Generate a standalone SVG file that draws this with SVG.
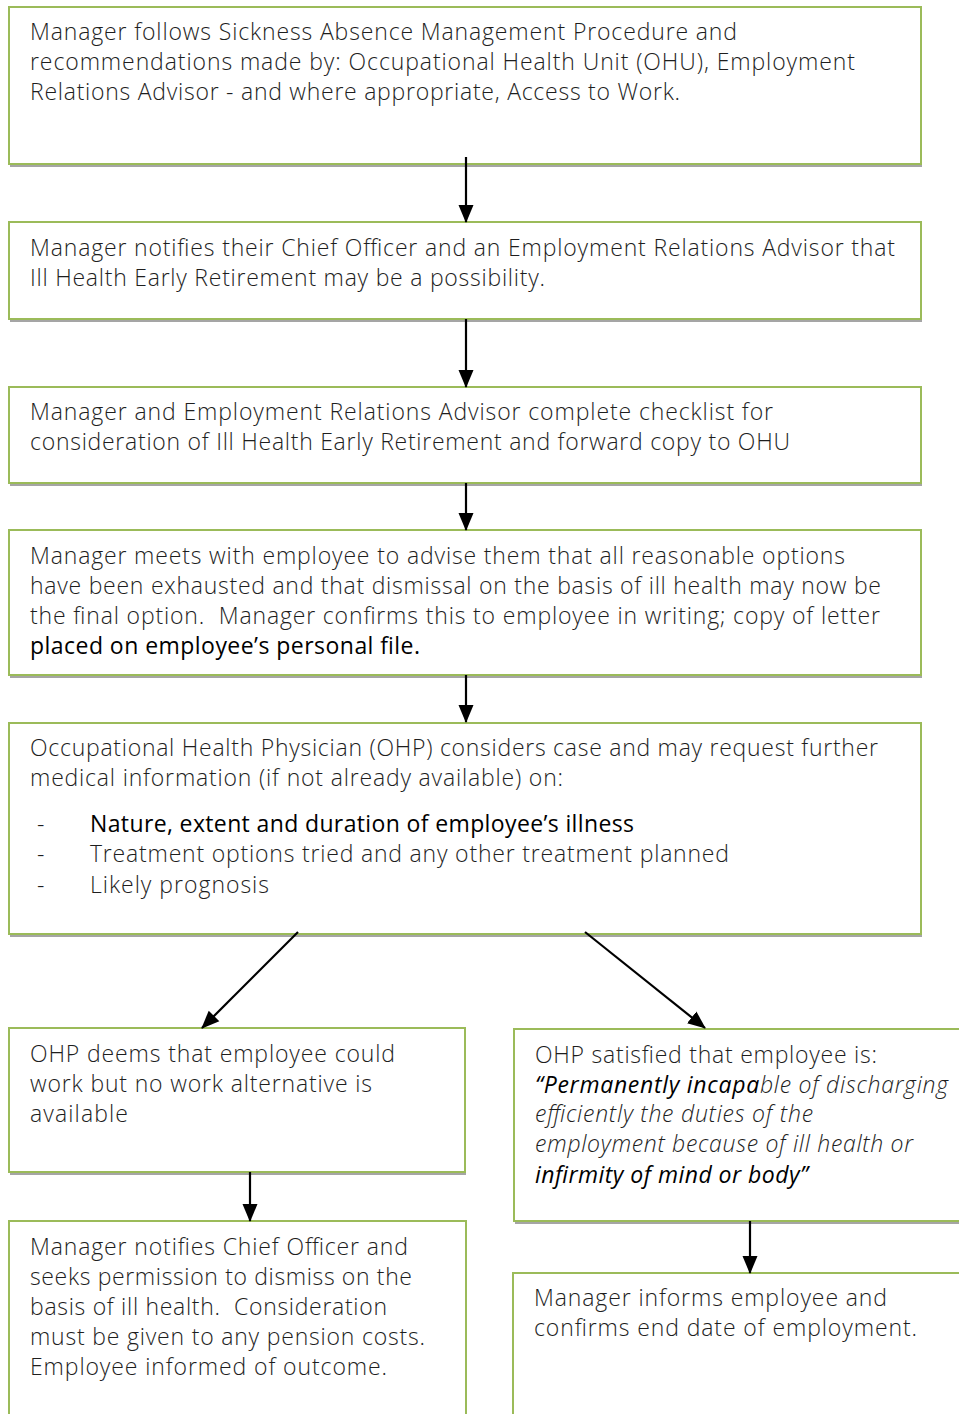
<svg xmlns="http://www.w3.org/2000/svg" width="959" height="1414" viewBox="0 0 959 1414">
  <style>
    .shadow { fill: #a5a5a5; }
    .box { fill: #ffffff; stroke: #9bbb59; stroke-width: 2; }
    .t { font-family: "Open Sans", "Liberation Sans", sans-serif; font-size: 23px; font-weight: 300; fill: #1e1e1e; }
    .b { font-weight: 400; fill: #000000; }
    .i { font-style: italic; }
    .link { stroke: #000000; stroke-width: 2.2; fill: none; marker-end: url(#head); }
  </style>
  <defs>
    <marker id="head" markerUnits="userSpaceOnUse" markerWidth="18" markerHeight="18" viewBox="0 0 18 18" refX="17" refY="9" orient="auto">
      <path d="M0,1.5 L18,9 L0,16.5 Z" fill="#000000"/>
    </marker>
  </defs>

  <rect width="959" height="1414" fill="#ffffff"/>

  <g id="n1">
    <rect class="shadow" x="10" y="10" width="912" height="157"/>
    <rect class="box" x="9" y="7" width="912" height="157"/>
    <text class="t" x="30" y="40" textLength="707">Manager follows Sickness Absence Management Procedure and</text>
    <text class="t" x="30" y="70" textLength="825">recommendations made by: Occupational Health Unit (OHU), Employment</text>
    <text class="t" x="30" y="100" textLength="650">Relations Advisor - and where appropriate, Access to Work.</text>
  </g>

  <g id="n2">
    <rect class="shadow" x="10" y="225" width="912" height="97"/>
    <rect class="box" x="9" y="222" width="912" height="97"/>
    <text class="t" x="30" y="256" textLength="865">Manager notifies their Chief Officer and an Employment Relations Advisor that</text>
    <text class="t" x="30" y="286" textLength="515">Ill Health Early Retirement may be a possibility.</text>
  </g>

  <g id="n3">
    <rect class="shadow" x="10" y="390" width="912" height="96"/>
    <rect class="box" x="9" y="387" width="912" height="96"/>
    <text class="t" x="30" y="420" textLength="743">Manager and Employment Relations Advisor complete checklist for</text>
    <text class="t" x="30" y="450" textLength="760">consideration of Ill Health Early Retirement and forward copy to OHU</text>
  </g>

  <g id="n4">
    <rect class="shadow" x="10" y="533" width="912" height="145"/>
    <rect class="box" x="9" y="530" width="912" height="145"/>
    <text class="t" x="30" y="564" textLength="815">Manager meets with employee to advise them that all reasonable options</text>
    <text class="t" x="30" y="594" textLength="851">have been exhausted and that dismissal on the basis of ill health may now be</text>
    <text class="t" x="30" y="624" textLength="850" xml:space="preserve">the final option.  Manager confirms this to employee in writing; copy of letter</text>
    <text class="t b" x="30" y="654" textLength="390">placed on employee’s personal file.</text>
  </g>

  <g id="n5">
    <rect class="shadow" x="10" y="726" width="912" height="211"/>
    <rect class="box" x="9" y="723" width="912" height="211"/>
    <text class="t" x="30" y="756" textLength="848">Occupational Health Physician (OHP) considers case and may request further</text>
    <text class="t" x="30" y="786" textLength="533">medical information (if not already available) on:</text>
    <text class="t" x="37" y="832">-</text>
    <text class="t b" x="90" y="832" textLength="544">Nature, extent and duration of employee’s illness</text>
    <text class="t" x="37" y="862">-</text>
    <text class="t" x="90" y="862" textLength="639">Treatment options tried and any other treatment planned</text>
    <text class="t" x="37" y="893">-</text>
    <text class="t" x="90" y="893" textLength="179">Likely prognosis</text>
  </g>

  <g id="n6">
    <rect class="shadow" x="10" y="1031" width="456" height="144"/>
    <rect class="box" x="9" y="1028" width="456" height="144"/>
    <text class="t" x="30" y="1062" textLength="365">OHP deems that employee could</text>
    <text class="t" x="30" y="1092" textLength="342">work but no work alternative is</text>
    <text class="t" x="30" y="1122" textLength="98">available</text>
  </g>

  <g id="n7">
    <rect class="shadow" x="515" y="1032" width="460" height="192"/>
    <rect class="box" x="514" y="1029" width="460" height="192"/>
    <text class="t" x="535" y="1063" textLength="342">OHP satisfied that employee is:</text>
    <text class="t i" x="535" y="1093" textLength="413"><tspan class="b">“Permanently incapa</tspan>ble of discharging</text>
    <text class="t i" x="535" y="1122" textLength="278">efficiently the duties of the</text>
    <text class="t i" x="535" y="1152" textLength="378">employment because of ill health or</text>
    <text class="t i b" x="535" y="1183" textLength="273">infirmity of mind or body”</text>
  </g>

  <g id="n8">
    <rect class="shadow" x="10" y="1224" width="457" height="200"/>
    <rect class="box" x="9" y="1221" width="457" height="200"/>
    <text class="t" x="30" y="1255" textLength="378">Manager notifies Chief Officer and</text>
    <text class="t" x="30" y="1285" textLength="382">seeks permission to dismiss on the</text>
    <text class="t" x="30" y="1315" textLength="357" xml:space="preserve">basis of ill health.  Consideration</text>
    <text class="t" x="30" y="1345" textLength="395">must be given to any pension costs.</text>
    <text class="t" x="30" y="1375" textLength="357">Employee informed of outcome.</text>
  </g>

  <g id="n9">
    <rect class="box" x="513" y="1273" width="460" height="160"/>
    <text class="t" x="534" y="1306" textLength="353">Manager informs employee and</text>
    <text class="t" x="534" y="1336" textLength="383">confirms end date of employment.</text>
  </g>

  <g id="connectors">
    <line class="link" x1="466" y1="157" x2="466" y2="222"/>
    <line class="link" x1="466" y1="319" x2="466" y2="387"/>
    <line class="link" x1="466" y1="483" x2="466" y2="530"/>
    <line class="link" x1="466" y1="675" x2="466" y2="722"/>
    <line class="link" x1="298" y1="932" x2="202" y2="1028"/>
    <line class="link" x1="585" y1="932" x2="705" y2="1028"/>
    <line class="link" x1="250" y1="1172" x2="250" y2="1221"/>
    <line class="link" x1="750" y1="1221" x2="750" y2="1273"/>
  </g>
</svg>
